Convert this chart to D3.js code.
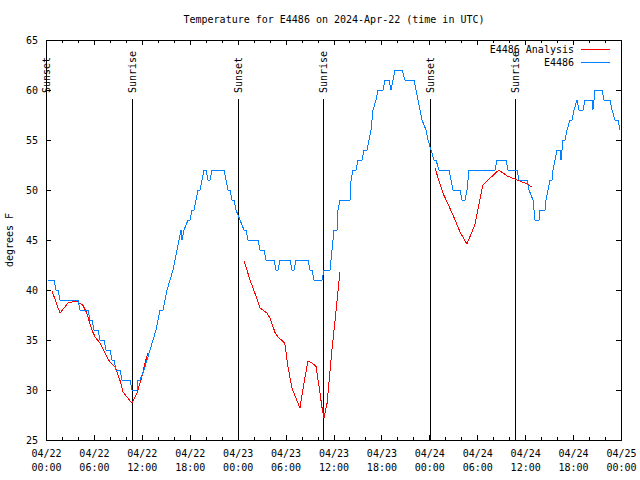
<!DOCTYPE html>
<html>
<head>
<meta charset="utf-8">
<script src="https://cdn.jsdelivr.net/npm/d3@7"></script>
<style>
  body { margin: 0; background: #fff; }
  text { font-family: "DejaVu Sans Mono", monospace; font-size: 10px; fill: #000; }
</style>
</head>
<body>
<svg id="chart" width="640" height="480"></svg>
<script>
// hours after 2024-04-22 00:00 UTC, degrees F
var obsSeries = [
  [0.25,41],[1.0,41],[1.25,40],[1.5,40],[1.75,39],[4.0,39],[4.26,38],[5.26,38],[5.51,37],[5.76,37],
  [6.01,36],[6.51,36],[6.76,35],[7.26,35],[7.51,34],[8.01,34],[8.26,33],[8.51,33],[8.77,32],[9.27,32],
  [9.52,31],[10.52,31],[10.77,30],[11.4,30],[11.52,31],[11.77,31],[12.27,32],[12.65,33],[13.02,34],[13.4,35],
  [13.77,36],[14.02,37],[14.28,38],[14.65,38],[14.9,39],[15.15,40],[15.53,41],[15.9,42],[16.15,43],[16.4,44],
  [16.65,45],[16.9,46],[17.03,45],[17.28,46],[17.78,47],[18.03,47],[18.28,48],[18.53,48],[18.78,49],[19.03,50],
  [19.28,50],[19.53,51],[19.78,52],[20.04,52],[20.29,51],[20.54,51],[20.79,52],[22.29,52],[22.54,51],[22.79,50],
  [23.04,50],[23.29,49],[23.54,49],[23.79,48],[24.29,47],[24.79,46],[25.04,46],[25.29,45],[26.55,45],[26.8,44],
  [27.3,44],[27.55,43],[28.55,43],[28.8,42],[29.05,42],[29.3,43],[30.55,43],[30.8,42],[31.05,42],[31.3,43],
  [32.81,43],[33.06,42],[33.31,42],[33.56,41],[34.56,41],[34.81,42],[35.56,42],[35.81,44],[36.06,46],[36.44,46],
  [36.56,48],[36.81,49],[38.07,49],[38.2,51],[38.45,52],[38.82,52],[39.07,53],[39.57,53],[39.82,54],[40.2,54],
  [40.45,55],[40.7,56],[40.95,58],[41.32,59],[41.57,60],[42.2,60],[42.45,61],[42.95,61],[43.2,60],[43.45,61],
  [43.7,62],[44.58,62],[44.95,61],[46.08,61],[46.33,60],[46.58,59],[46.83,58],[47.08,57],[47.58,56],[47.83,55],
  [48.21,54],[48.59,53],[48.83,53],[49.21,52],[50.46,52],[50.71,51],[50.96,50],[51.84,50],[52.09,49],[52.47,49],
  [52.72,50],[52.97,52],[56.22,52],[56.47,53],[57.6,53],[57.85,52],[58.98,52],[59.23,51],[60.23,51],[60.48,50],
  [60.98,49],[61.23,47],[61.73,47],[61.86,48],[62.48,48],[62.61,49],[62.86,50],[63.11,51],[63.36,51],[63.49,52],
  [63.74,53],[63.99,54],[64.36,54],[64.49,53],[64.74,55],[64.99,55],[65.24,56],[65.61,57],[65.87,57],[66.12,58],
  [66.49,59],[66.74,58],[67.24,58],[67.49,59],[68.37,59],[68.49,58],[68.75,60],[69.62,60],[69.87,59],[70.62,59],
  [70.87,58],[71.25,57],[71.62,57],[71.87,56]
];

// analysis, null = gap
var anaSeries = [
  [0.75,39.9],[1.75,37.7],[2.75,38.7],[3.75,38.9],[4.6,38.5],[5.1,37.7],[5.75,36.0],[6.15,35.3],[6.75,34.7],
  [7.65,33.3],[8.0,32.8],[8.65,32.3],[9.25,31.0],[9.65,29.8],[10.15,29.3],[10.75,28.7],[11.4,29.7],[12.0,31.3],
  [12.4,32.7],[12.75,33.7],
  [13.0,null],
  [24.8,42.9],[25.55,41.0],[26.15,39.7],[26.8,38.2],[27.65,37.7],[28.05,37.2],[28.7,35.7],[29.05,35.3],[29.9,34.7],
  [30.3,32.3],[30.8,30.2],[31.8,28.2],[32.3,30.7],[32.8,32.9],[33.3,32.7],[33.8,32.4],[34.2,30.3],[34.55,28.3],
  [34.8,27.2],[35.2,28.7],[35.8,34.0],[36.2,37.0],[36.8,41.8],
  [37.0,null],
  [48.7,52.2],[49.7,49.7],[50.85,47.7],[51.85,45.8],[52.7,44.6],[53.7,46.5],[54.7,50.5],[55.35,51.0],[56.7,52.0],
  [57.75,51.4],[59.0,51.0],[60.25,50.6],[60.85,50.3]
];

var eventNames = ["Sunset", "Sunrise", "Sunset", "Sunrise", "Sunset", "Sunrise"];
var eventHours = [0.02, 10.77, 24.04, 34.73, 48.06, 58.7];

var yTicks = [25, 30, 35, 40, 45, 50, 55, 60, 65];
var xMajorHours = d3.range(0, 73, 6);
var xMinorHours = d3.range(0, 73, 2);

var legendNames = ["E4486 Analysis", "E4486"];
var legendColors = ["#ff0000", "#0080ff"];

(function () {
  var t0 = Date.UTC(2024, 3, 22);
  function hr(h) { return new Date(t0 + h * 3600e3); }

  var svg = d3.select("#chart"),
    pl = 46, pr = 621, pt = 40, pb = 440;

  var x = d3.scaleUtc().domain([hr(0), hr(72)]).range([pl, pr]);
  var y = d3.scaleLinear().domain([25, 65]).range([pb, pt]);

  svg.append("text")
    .attr("x", 334).attr("y", 23)
    .attr("text-anchor", "middle")
    .text("Temperature for E4486 on 2024-Apr-22 (time in UTC)");

  // minor ticks, bottom and top
  svg.append("g").attr("transform", "translate(0," + pb + ")")
    .call(d3.axisBottom(x).tickValues(xMinorHours.map(hr)).tickSize(-3).tickFormat(""));
  svg.append("g").attr("transform", "translate(0," + pt + ")")
    .call(d3.axisTop(x).tickValues(xMinorHours.map(hr)).tickSize(-3).tickFormat(""));

  // major ticks with two line labels
  var fmtDay = d3.utcFormat("%m/%d"), fmtTime = d3.utcFormat("%H:%M");
  var xAxis = svg.append("g").attr("transform", "translate(0," + pb + ")")
    .call(d3.axisBottom(x).tickValues(xMajorHours.map(hr)).tickSize(-5).tickFormat(""));
  xAxis.selectAll(".tick text").remove();
  xAxis.selectAll(".tick").append("text")
    .attr("text-anchor", "middle")
    .each(function (d) {
      var t = d3.select(this);
      t.append("tspan").attr("x", 0).attr("y", 17).text(fmtDay(d));
      t.append("tspan").attr("x", 0).attr("y", 31).text(fmtTime(d));
    });
  svg.append("g").attr("transform", "translate(0," + pt + ")")
    .call(d3.axisTop(x).tickValues(xMajorHours.map(hr)).tickSize(-5).tickFormat(""));

  svg.append("g").attr("transform", "translate(" + pl + ",0)")
    .call(d3.axisLeft(y).tickValues(yTicks).tickSize(-5).tickPadding(8))
    .selectAll("text").attr("font-size", null).attr("font-family", null);
  svg.append("g").attr("transform", "translate(" + pr + ",0)")
    .call(d3.axisRight(y).tickValues(yTicks).tickSize(-5).tickFormat(""));

  svg.selectAll(".domain").remove();
  svg.selectAll("g").attr("font-size", null).attr("font-family", null);
  svg.selectAll(".tick line").attr("stroke", "#000").attr("shape-rendering", "crispEdges");

  svg.append("text")
    .attr("transform", "translate(13,240) rotate(-90)")
    .attr("text-anchor", "middle")
    .text("degrees F");

  // sunrise / sunset markers
  var ev = svg.append("g").selectAll("g")
    .data(eventHours)
    .enter().append("g");
  ev.append("line")
    .attr("x1", function (d) { return Math.round(x(hr(d))) + 0.5; })
    .attr("x2", function (d) { return Math.round(x(hr(d))) + 0.5; })
    .attr("y1", 99).attr("y2", pb)
    .attr("stroke", "#000").attr("shape-rendering", "crispEdges");
  ev.append("text")
    .attr("transform", function (d) { return "translate(" + (Math.round(x(hr(d))) + 4) + ",93) rotate(-90)"; })
    .text(function (d, i) { return eventNames[i]; });

  var line = d3.line()
    .defined(function (d) { return d[1] != null; })
    .x(function (d) { return x(hr(d[0])); })
    .y(function (d) { return y(d[1]); });

  svg.append("path").datum(anaSeries)
    .attr("d", line).attr("fill", "none").attr("stroke", legendColors[0])
    .attr("stroke-width", 1).attr("shape-rendering", "crispEdges");
  svg.append("path").datum(obsSeries)
    .attr("d", line).attr("fill", "none").attr("stroke", legendColors[1])
    .attr("stroke-width", 1).attr("shape-rendering", "crispEdges");

  // legend
  var lg = svg.append("g").selectAll("g")
    .data(legendNames)
    .enter().append("g")
    .attr("transform", function (d, i) { return "translate(0," + (49 + i * 13) + ")"; });
  lg.append("text").attr("x", 574).attr("dy", "0.35em").attr("text-anchor", "end")
    .text(function (d) { return d; });
  lg.append("line").attr("x1", 581).attr("x2", 610).attr("y1", 0.5).attr("y2", 0.5)
    .attr("stroke", function (d, i) { return legendColors[i]; })
    .attr("shape-rendering", "crispEdges");

  // frame
  svg.append("rect")
    .attr("x", pl + 0.5).attr("y", pt + 0.5)
    .attr("width", pr - pl).attr("height", pb - pt)
    .attr("fill", "none").attr("stroke", "#000").attr("shape-rendering", "crispEdges");
})();
</script>
</body>
</html>
